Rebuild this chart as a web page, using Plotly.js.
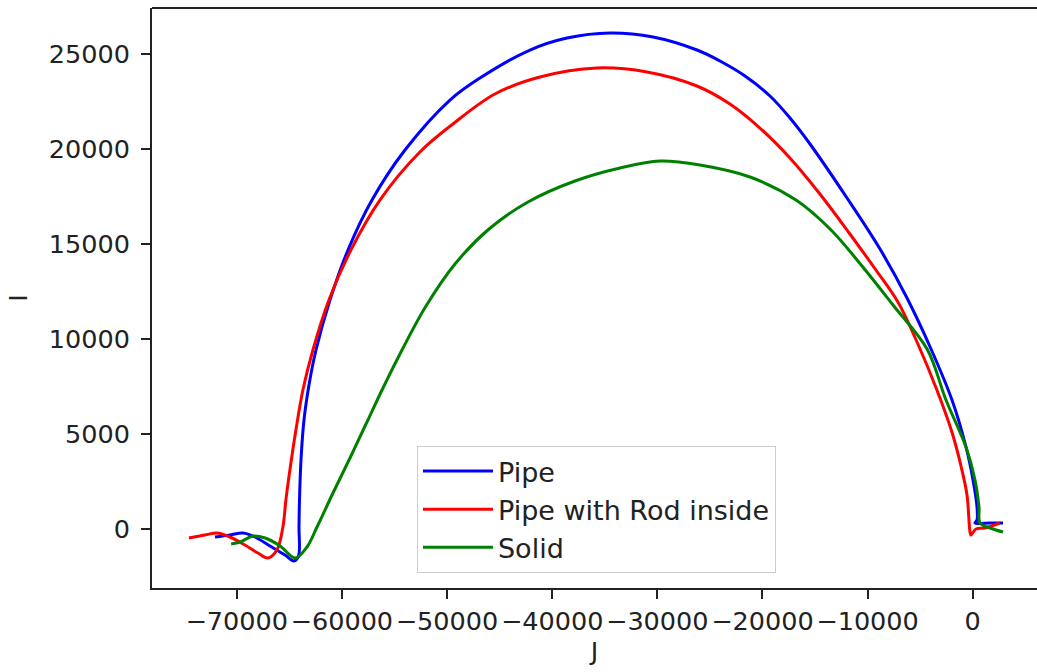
<!DOCTYPE html>
<html>
<head>
<meta charset="utf-8">
<script src="https://cdn.plot.ly/plotly-3.0.1.min.js"></script>
<style>
  html, body { margin: 0; padding: 0; background: #fff; }
  #chart { width: 1037px; height: 672px; }
</style>
</head>
<body>
<div id="chart"></div>
<script>
// Series names and colours
const seriesNames = ["Pipe", "Pipe with Rod inside", "Solid"];
const seriesColors = ["#0000ff", "#ff0000", "#008000"];

// Pipe (J, I)
const pipeJ = [-72065, -70638, -69402, -68260, -66834, -65407, -64551, -64123, -64076, -64028, -63886, -63600, -63125, -62459, -61128, -59416, -57133, -53995, -49715, -46862, -42107, -38587, -34497, -30407, -26222, -24034, -21657, -19279, -17377, -15474, -11955, -8816, -6248, -3966, -1969, -637, 29, 409, 409, 219, 1645, 2882];
const pipeI = [-421, -316, -210, -421, -895, -1368, -1684, -1421, 105, 1526, 3631, 5737, 7579, 9421, 12053, 14684, 17315, 19947, 22578, 23736, 25210, 25842, 26105, 25894, 25210, 24631, 23841, 22789, 21631, 20263, 17421, 14736, 12158, 9473, 6789, 4316, 2579, 1158, 474, 316, 316, 316];

// Pipe with Rod inside (J, I)
const rodJ = [-74547, -73025, -71884, -70648, -69221, -67985, -67034, -66178, -65607, -65322, -64941, -64370, -63704, -62753, -61231, -59139, -56381, -52576, -49438, -45443, -41163, -35742, -30986, -26231, -23092, -20239, -17386, -14532, -11679, -9206, -7114, -5212, -3405, -1978, -1113, -542, -257, -162, 314, 1170, 2597];
const rodI = [-474, -316, -210, -421, -842, -1263, -1526, -1105, 105, 1526, 3105, 5210, 7316, 9421, 12053, 14684, 17315, 19842, 21316, 22894, 23789, 24263, 24052, 23315, 22368, 21105, 19526, 17631, 15526, 13631, 11947, 9737, 7316, 5105, 3316, 1789, -158, -316, 0, 53, 316];

// Solid (J, I)
const solidJ = [-70530, -69674, -68438, -67297, -65870, -64443, -63315, -62364, -60842, -59225, -57703, -56086, -54279, -51996, -49238, -46004, -42295, -37825, -33545, -29741, -25937, -21181, -16807, -13564, -10530, -7582, -4341, -2541, -637, 219, 599, 694, 1645, 2882];
const solidI = [-789, -684, -368, -474, -895, -1526, -947, 105, 1895, 3737, 5526, 7421, 9421, 11736, 13947, 15789, 17210, 18315, 19000, 19368, 19157, 18526, 17315, 15789, 13842, 11789, 9473, 6789, 4316, 2579, 1158, 316, 53, -158];

// Axis ticks
const xTickVals = [-70000, -60000, -50000, -40000, -30000, -20000, -10000, 0];
const xTickText = ["\u221270000", "\u221260000", "\u221250000", "\u221240000", "\u221230000", "\u221220000", "\u221210000", "0"];
const yTickVals = [0, 5000, 10000, 15000, 20000, 25000];
const yTickText = ["0", "5000", "10000", "15000", "20000", "25000"];

const xs = [pipeJ, rodJ, solidJ];
const ys = [pipeI, rodI, solidI];

const traces = seriesNames.map((name, i) => ({
  type: "scatter",
  mode: "lines",
  name: name,
  x: xs[i],
  y: ys[i],
  line: { color: seriesColors[i], width: 3, shape: "spline", smoothing: 1.0 },
  hoverinfo: "skip"
}));

const font = "DejaVu Sans, Liberation Sans, sans-serif";
const axisCommon = {
  showgrid: false,
  zeroline: false,
  showline: true,
  linecolor: "#222",
  linewidth: 2,
  ticks: "outside",
  ticklen: 9,
  tickwidth: 2,
  tickcolor: "#222",
  tickfont: { family: font, size: 25.5, color: "#222" },
  tickmode: "array"
};

const layout = {
  width: 1037,
  height: 672,
  margin: { l: 152, r: 0, t: 8, b: 84 },
  paper_bgcolor: "#fff",
  plot_bgcolor: "#fff",
  showlegend: true,
  xaxis: Object.assign({}, axisCommon, {
    range: [-78056, 6115],
    tickvals: xTickVals,
    ticktext: xTickText,
    ticklabelstandoff: 0,
    title: { text: "J", font: { family: font, size: 25.5, color: "#222" }, standoff: 4 }
  }),
  yaxis: Object.assign({}, axisCommon, {
    range: [-3105, 27421],
    tickvals: yTickVals,
    ticktext: yTickText,
    ticklabelstandoff: 6,
    title: { text: "I", font: { family: font, size: 25.5, color: "#222" }, standoff: 14 }
  }),
  legend: {
    x: 0.2994, y: 0.2448, xanchor: "left", yanchor: "top",
    bgcolor: "rgba(255,255,255,0.8)",
    bordercolor: "#cccccc", borderwidth: 1,
    font: { family: font, size: 27, color: "#222" },
    itemwidth: 70
  },
  shapes: [
    { type: "line", xref: "paper", yref: "paper", x0: 0, x1: 1, y0: 1, y1: 1,
      line: { color: "#222", width: 2 } }
  ]
};

Plotly.newPlot("chart", traces, layout, { displayModeBar: false, staticPlot: true });
</script>
</body>
</html>
